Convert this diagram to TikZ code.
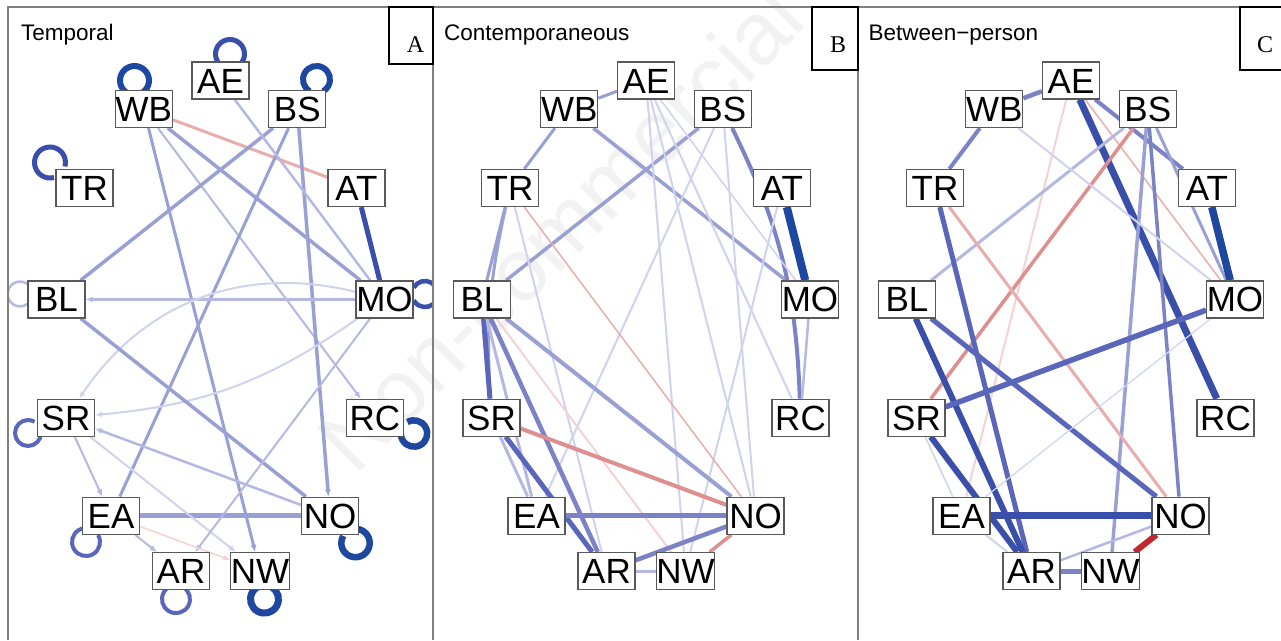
\documentclass[tikz,border=0pt]{standalone}
\usepackage{fontspec}
\setmainfont{Liberation Sans}
\newfontfamily\tnr{Liberation Serif}
\usetikzlibrary{arrows.meta,calc}
\pgfdeclarelayer{bg}
\pgfsetlayers{bg,main}
\definecolor{pa}{HTML}{1E48A0}
\definecolor{pb}{HTML}{3A4FAA}
\definecolor{pc}{HTML}{5A66BA}
\definecolor{pd}{HTML}{7B82C6}
\definecolor{pe}{HTML}{9A9FD4}
\definecolor{pf}{HTML}{B5B9E1}
\definecolor{pg}{HTML}{D0D3EE}
\definecolor{ra}{HTML}{C0282D}
\definecolor{rc}{HTML}{DE9090}
\definecolor{re}{HTML}{E8AEAE}
\definecolor{rg}{HTML}{F3D3D3}
\definecolor{frame}{HTML}{808080}
\newcommand\mknodes[2]{%
  \foreach \n/\x/\y in {AE/220.5/80.5,BS/297.3/109,AT/356.5/188,MO/384.5/299.4,RC/375/417.7,NO/330/515.7,NW/260/571.1,AR/181/571.1,EA/111/515.7,SR/66/417.7,BL/56.5/299.4,TR/84.5/188,WB/143.7/109}
    \node[lbl] (#1\n) at ({\x+#2},\y) {\n};}
\newcommand\selfloop[6]{%
  \draw[#6] ($(#1)+(#2,#3)+({#5+30}:#4)$) arc[start angle={#5+30}, end angle={#5+330}, radius=#4];}
\begin{document}
\begin{tikzpicture}[x=1pt,y=-1pt,
  lbl/.style={draw=black!65, line width=1.2pt, fill=white, minimum width=57pt, minimum height=37pt,
    inner sep=0pt, text height=25pt, text depth=0pt, font=\fontsize{35}{35}\selectfont},
  ed/.style 2 args={draw=#1, line width=#2pt},
  tipe/.style={-{Latex[length=7pt,width=6pt]}},
  tips/.style={{Latex[length=7pt,width=6pt]}-},
  ttl/.style={anchor=base west, inner sep=0pt, font=\fontsize{22.5}{22.5}\selectfont},
  pframe/.style={draw=frame, line width=1.4pt},
  tag/.style={draw=black, line width=1.2pt, fill=white}]
\useasboundingbox (0,0) rectangle (1281,640);
\begin{pgfonlayer}{bg}
\fill[white] (0,0) rectangle (1281,640);
\node[rotate=45, text=black!5, font=\fontsize{88}{88}\selectfont] (wm) at (560,228) {Non-commercial};
\end{pgfonlayer}
% panel frames
\draw[pframe] (8,640) -- (8,7) -- (1281,7);
\draw[pframe] (433,7) -- (433,640);
\draw[pframe] (858,7) -- (858,640);
% titles
\node[ttl] (tA) at (21,40) {Temporal};
\node[ttl] (tB) at (444,40) {Contemporaneous};
\node[ttl] (tC) at (868.5,40) {Between−person};
% tags
\draw[tag] (389,7) rectangle (433,64);
\node[font=\tnr\fontsize{24}{24}\selectfont] (gA) at (415.5,45) {A};
\draw[tag] (812,7) rectangle (858,70);
\node[font=\tnr\fontsize{24}{24}\selectfont] (gB) at (838,45) {B};
\draw[tag] (1240,7) rectangle (1285,70);
\node[font=\tnr\fontsize{24}{24}\selectfont] (gC) at (1265,45) {C};
% nodes
\mknodes{a}{0}
\mknodes{b}{425.5}
\mknodes{c}{850.5}
% ---------- Panel A edges
\begin{pgfonlayer}{bg}
\begin{scope}
\clip (8,7) rectangle (433,640);
\draw[ed={re}{3}] (aWB) -- (aAT);
\draw[ed={pe}{3.5}] (aWB) -- (aMO);
\draw[ed={pe}{3},tipe] (aWB) -- (aNW);
\draw[ed={pf}{2},tipe] (aWB) -- (aRC);
\draw[ed={pe}{3.5}] (aBS) -- (aBL);
\draw[ed={pe}{3}] (aBS) -- (aEA);
\draw[ed={pe}{3.5},tipe] (aBS) -- (aNO);
\draw[ed={pf}{2.5}] (aAE) -- (aMO);
\draw[ed={pb}{5}] (aAT) -- (aMO);
\draw[ed={pf}{2.5},tipe] (aMO) -- (aBL);
\draw[ed={pg}{2},tipe] (aMO) to[bend right=35] (aSR);
\draw[ed={pg}{2},tips] (aSR) to[bend right=15] (aMO);
\draw[ed={pe}{3.5}] (aBL) -- (aNO);
\draw[ed={pe}{4.5}] (aEA) -- (aNO);
\draw[ed={pf}{2.5},tipe] (aNO) -- (aSR);
\draw[ed={pf}{2},tipe] (aSR) -- (aEA);
\draw[ed={pg}{2},tipe] (aSR) -- (aNW);
\draw[ed={pf}{2},tipe] (aMO) -- (aAR);
\draw[ed={rg}{1.5},tipe] (aEA) -- (aNW);
\draw[ed={pf}{2},tipe] (aEA) -- (aAR);
% self loops
\selfloop{aAE}{9.5}{-26.5}{14.5}{90}{ed={pb}{5}}
\selfloop{aWB}{-9.2}{-28.5}{14.5}{90}{ed={pa}{6}}
\selfloop{aBS}{19.2}{-29.5}{13.5}{90}{ed={pa}{6}}
\selfloop{aTR}{-34.5}{-25.5}{15.5}{45}{ed={pb}{5}}
\selfloop{aBL}{-36.5}{-5.4}{12.5}{0}{ed={pf}{2.5}}
\selfloop{aMO}{40.5}{-5.4}{13}{180}{ed={pb}{4.5}}
\selfloop{aSR}{-38}{15.3}{13}{-30}{ed={pc}{4}}
\selfloop{aRC}{39}{15.8}{13.2}{-150}{ed={pa}{6.5}}
\selfloop{aEA}{-25}{26.3}{14}{-60}{ed={pc}{4}}
\selfloop{aNO}{25.5}{27.3}{14.2}{-120}{ed={pa}{6.5}}
\selfloop{aAR}{-5}{28}{14}{-90}{ed={pc}{4}}
\selfloop{aNW}{4.5}{28}{14}{-90}{ed={pa}{7}}
\end{scope}
% ---------- Panel B edges
\begin{scope}
\clip (433,7) rectangle (858,640);
\draw[ed={pe}{3}] (bAE) -- (bWB);
\draw[ed={pe}{3}] (bWB) -- (bTR);
\draw[ed={pe}{3.5}] (bWB) -- (bMO);
\draw[ed={pe}{3.5}] (bBS) -- (bBL);
\draw[ed={pd}{4}] (bBS) to[bend left=12] (bRC);
\draw[ed={pa}{8}] (bAT) -- (bMO);
\draw[ed={pf}{2.5}] (bMO) -- (bRC);
\draw[ed={pg}{2}] (bAE) -- (bNW);
\draw[ed={pg}{2}] (bAE) -- (bNO);
\draw[ed={pg}{2}] (bAE) -- (bRC);
\draw[ed={pg}{1.5}] (bAE) -- (bMO);
\draw[ed={pg}{2}] (bBS) -- (bEA);
\draw[ed={pg}{2}] (bBS) -- (bNO);
\draw[ed={pg}{2}] (bAT) -- (bNW);
\draw[ed={pe}{3}] (bTR) -- (bBL);
\draw[ed={pe}{3}] (bTR) to[bend right=8] (bSR);
\draw[ed={pg}{2}] (bTR) -- (bAR);
\draw[ed={re}{1.5}] (bTR) -- (bNO);
\draw[ed={pc}{5}] (bBL) -- (bSR);
\draw[ed={pf}{3}] (bBL) -- (bEA);
\draw[ed={pd}{4.5}] (bBL) -- (bAR);
\draw[ed={pe}{4}] (bBL) -- (bNO);
\draw[ed={rg}{2}] (bBL) -- (bNW);
\draw[ed={rc}{4}] (bSR) -- (bNO);
\draw[ed={pc}{5}] (bSR) -- (bAR);
\draw[ed={pf}{3}] (bSR) -- (bEA);
\draw[ed={pd}{4.5}] (bEA) -- (bNO);
\draw[ed={pd}{4.5}] (bAR) -- (bNO);
\draw[ed={pf}{3}] (bAR) -- (bNW);
\draw[ed={rc}{3.5}] (bNW) -- (bNO);
\end{scope}
% ---------- Panel C edges
\begin{scope}
\clip (858,7) rectangle (1281,640);
\draw[ed={pd}{4.5}] (cAE) -- (cWB);
\draw[ed={pd}{4}] (cAE) -- (cAT);
\draw[ed={pb}{7}] (cAE) -- (cRC);
\draw[ed={rg}{2}] (cAE) -- (cEA);
\draw[ed={re}{1.5}] (cAE) -- (cMO);
\draw[ed={rc}{3.5}] (cBS) -- (cSR);
\draw[ed={pf}{3}] (cBS) -- (cBL);
\draw[ed={pe}{3.5}] (cBS) -- (cNW);
\draw[ed={pd}{3.5}] (cBS) -- (cNO);
\draw[ed={pe}{3}] (cBS) -- (cMO);
\draw[ed={pg}{2}] (cWB) -- (cMO);
\draw[ed={pd}{4}] (cWB) -- (cTR);
\draw[ed={pc}{5}] (cTR) -- (cAR);
\draw[ed={re}{3}] (cTR) -- (cNO);
\draw[ed={pb}{6}] (cBL) -- (cAR);
\draw[ed={pc}{5}] (cBL) -- (cNO);
\draw[ed={pc}{5.5}] (cSR) -- (cMO);
\draw[ed={pb}{6}] (cSR) -- (cAR);
\draw[ed={pg}{1.5}] (cSR) -- (cEA);
\draw[ed={pg}{1.2}] (cMO) -- (cEA);
\draw[ed={pb}{7}] (cEA) -- (cNO);
\draw[ed={pg}{2}] (cEA) -- (cAR);
\draw[ed={pd}{5}] (cAR) -- (cNW);
\draw[ed={pf}{2.5}] (cAR) -- (cNO);
\draw[ed={ra}{6}] (cNW) -- (cNO);
\draw[ed={pa}{7.5}] (cAT) -- (cMO);
\end{scope}
\end{pgfonlayer}
\end{tikzpicture}
\end{document}
